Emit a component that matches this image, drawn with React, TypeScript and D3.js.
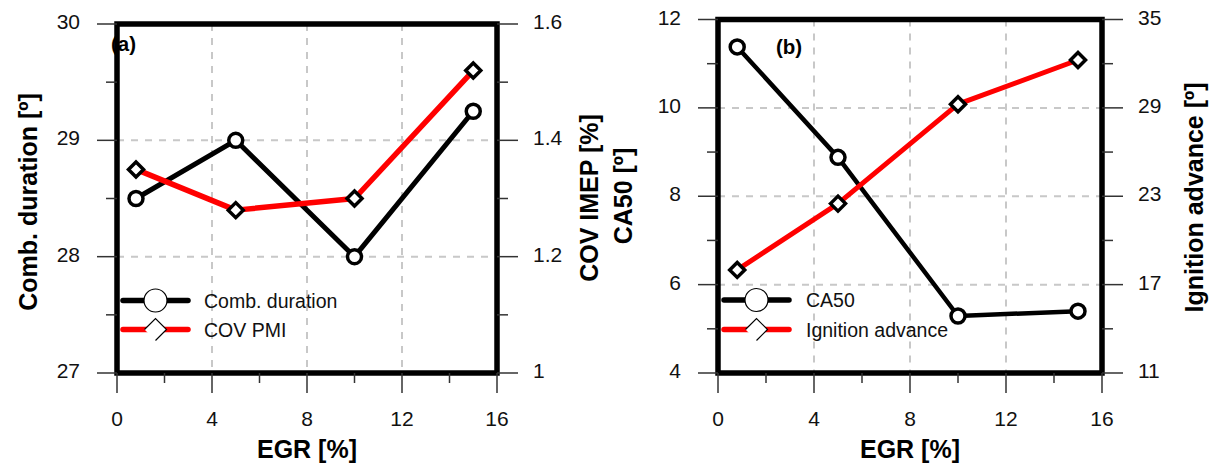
import React from "react";
import * as d3 from "d3";

// ---- data ----
const egr = [0.8, 5, 10, 15];
const combDuration = [28.5, 29.0, 28.0, 29.25];
const covImep = [1.35, 1.28, 1.3, 1.52];
const ca50 = [11.38, 8.88, 5.29, 5.4];
const ignitionAdvance = [18.0, 22.5, 29.25, 32.25];

const xTicks = [0, 4, 8, 12, 16];
const aLeftTicks = [27, 28, 29, 30];
const aRightTicks = [1, 1.2, 1.4, 1.6];
const bLeftTicks = [4, 6, 8, 10, 12];
const bRightTicks = [11, 17, 23, 29, 35];

const FONT = "'Liberation Sans', Arial, Helvetica, sans-serif";

type PanelProps = {
  x0: number; x1: number; yTop: number; yBot: number;
  leftTicks: number[]; rightTicks: number[];
  leftVals: number[]; rightVals: number[];
  leftName: string; rightName: string;
  tag: string; tagX: number; tagY: number;
  legX0: number; legX1: number; legTextX: number; legY1: number; legY2: number;
  lineW: number;
};

function mids(t: number[]) {
  const r: number[] = [];
  for (let i = 0; i < t.length - 1; i++) r.push((t[i] + t[i + 1]) / 2);
  return r;
}

function Panel(p: PanelProps) {
  const x = d3.scaleLinear().domain([xTicks[0], xTicks[xTicks.length - 1]]).range([p.x0, p.x1]);
  const yl = d3.scaleLinear().domain([p.leftTicks[0], p.leftTicks[p.leftTicks.length - 1]]).range([p.yBot, p.yTop]);
  const yr = d3.scaleLinear().domain([p.rightTicks[0], p.rightTicks[p.rightTicks.length - 1]]).range([p.yBot, p.yTop]);
  const lineL = d3.line<number>().x((_, i) => x(egr[i])).y((d) => yl(d));
  const lineR = d3.line<number>().x((_, i) => x(egr[i])).y((d) => yr(d));
  const grid = { stroke: "#c8c8c8", strokeWidth: 2, strokeDasharray: "7 7" };
  const tick = { stroke: "#333", strokeWidth: 1.5 };
  const dia = (cx: number, cy: number, r: number) =>
    `M${cx - r},${cy}L${cx},${cy - r}L${cx + r},${cy}L${cx},${cy + r}Z`;
  const lc = (p.legX0 + p.legX1) / 2;
  return (
    <g fontFamily={FONT}>
      {/* grid */}
      {xTicks.slice(1, -1).map((t) => (
        <line key={"gx" + t} x1={x(t)} x2={x(t)} y1={p.yTop} y2={p.yBot} {...grid} />
      ))}
      {p.leftTicks.slice(1, -1).map((t) => (
        <line key={"gy" + t} x1={p.x0} x2={p.x1} y1={yl(t)} y2={yl(t)} {...grid} />
      ))}
      {/* data */}
      <path d={lineL(p.leftVals) || ""} fill="none" stroke="#000" strokeWidth={p.lineW} strokeLinejoin="round" />
      <path d={lineR(p.rightVals) || ""} fill="none" stroke="#ff0000" strokeWidth={p.lineW + 0.5} strokeLinejoin="round" />
      {p.leftVals.map((v, i) => (
        <circle key={"c" + i} cx={x(egr[i])} cy={yl(v)} r={7} fill="#fff" stroke="#000" strokeWidth={3.5} />
      ))}
      {p.rightVals.map((v, i) => (
        <path key={"d" + i} d={dia(x(egr[i]), yr(v), 7.5)} fill="#fff" stroke="#000" strokeWidth={3.5} strokeLinejoin="miter" />
      ))}
      {/* frame */}
      <rect x={p.x0} y={p.yTop} width={p.x1 - p.x0} height={p.yBot - p.yTop} fill="none" stroke="#000" strokeWidth={5.5} />
      {/* x ticks */}
      {xTicks.map((t) => (
        <g key={"xt" + t}>
          <line x1={x(t)} x2={x(t)} y1={p.yBot} y2={p.yBot + 20} {...tick} />
          <text x={x(t)} y={p.yBot + 53} textAnchor="middle" fontSize={21} fill="#111">{t}</text>
        </g>
      ))}
      {mids(xTicks).map((t) => (
        <line key={"xm" + t} x1={x(t)} x2={x(t)} y1={p.yBot} y2={p.yBot + 10} {...tick} />
      ))}
      {/* left ticks */}
      {p.leftTicks.map((t) => (
        <g key={"lt" + t}>
          <line x1={p.x0 - 20} x2={p.x0} y1={yl(t)} y2={yl(t)} {...tick} />
          <text x={p.x0 - 37} y={yl(t) + 5} textAnchor="end" fontSize={21} fill="#111">{t}</text>
        </g>
      ))}
      {mids(p.leftTicks).map((t) => (
        <line key={"lm" + t} x1={p.x0 - 11} x2={p.x0} y1={yl(t)} y2={yl(t)} {...tick} />
      ))}
      {/* right ticks */}
      {p.rightTicks.map((t) => (
        <g key={"rt" + t}>
          <line x1={p.x1} x2={p.x1 + 21} y1={yr(t)} y2={yr(t)} {...tick} />
          <text x={p.x1 + 36} y={yr(t) + 5} textAnchor="start" fontSize={21} fill="#111">{String(t)}</text>
        </g>
      ))}
      {mids(p.rightTicks).map((t) => (
        <line key={"rm" + t} x1={p.x1} x2={p.x1 + 11} y1={yr(t)} y2={yr(t)} {...tick} />
      ))}
      {/* x title */}
      <text x={(p.x0 + p.x1) / 2} y={458} textAnchor="middle" fontSize={25} fontWeight="bold">EGR [%]</text>
      {/* tag */}
      <text x={p.tagX} y={p.tagY} fontSize={20.5} fontWeight="bold">{p.tag}</text>
      {/* legend */}
      <line x1={p.legX0} x2={p.legX1} y1={p.legY1} y2={p.legY1} stroke="#000" strokeWidth={5.5} strokeLinecap="round" />
      <circle cx={lc} cy={p.legY1} r={11.5} fill="#fff" stroke="#000" strokeWidth={1.2} />
      <text x={p.legTextX} y={p.legY1 + 7} fontSize={19.5} fill="#111">{p.leftName}</text>
      <line x1={p.legX0} x2={p.legX1} y1={p.legY2} y2={p.legY2} stroke="#ff0000" strokeWidth={5.5} strokeLinecap="round" />
      <path d={dia(lc, p.legY2, 11)} fill="#fff" stroke="none" />
      <path d={`M${lc - 11},${p.legY2}L${lc},${p.legY2 - 11}L${lc + 11},${p.legY2}L${lc},${p.legY2 + 11}`} fill="none" stroke="#000" strokeWidth={1.2} />
      <text x={p.legTextX} y={p.legY2 + 7} fontSize={19.5} fill="#111">{p.rightName}</text>
    </g>
  );
}

export default function App() {
  return (
    <svg width={1217} height={470} style={{ position: "absolute", left: 0, top: 0, background: "#fff" }}>
      <rect width={1217} height={470} fill="#fff" />
      <Panel
        x0={117} x1={497} yTop={24} yBot={373}
        leftTicks={aLeftTicks} rightTicks={aRightTicks}
        leftVals={combDuration} rightVals={covImep}
        leftName="Comb. duration" rightName="COV PMI"
        tag="(a)" tagX={111} tagY={51}
        legX0={123} legX1={188} legTextX={204} legY1={300.5} legY2={329.5}
        lineW={5}
      />
      <Panel
        x0={718} x1={1102} yTop={19.5} yBot={373}
        leftTicks={bLeftTicks} rightTicks={bRightTicks}
        leftVals={ca50} rightVals={ignitionAdvance}
        leftName="CA50" rightName="Ignition advance"
        tag="(b)" tagX={776} tagY={54}
        legX0={724} legX1={789} legTextX={806} legY1={300} legY2={329.5}
        lineW={4.5}
      />
      <g fontFamily={FONT} fontWeight="bold" fontSize={25} textAnchor="middle">
        <text transform="translate(37,202) rotate(-90)">Comb. duration [º]</text>
        <text transform="translate(598,198) rotate(-90)">COV IMEP [%]</text>
        <text transform="translate(632,196) rotate(-90)">CA50 [º]</text>
        <text transform="translate(1203,197.5) rotate(-90)">Ignition advance [º]</text>
      </g>
    </svg>
  );
}
